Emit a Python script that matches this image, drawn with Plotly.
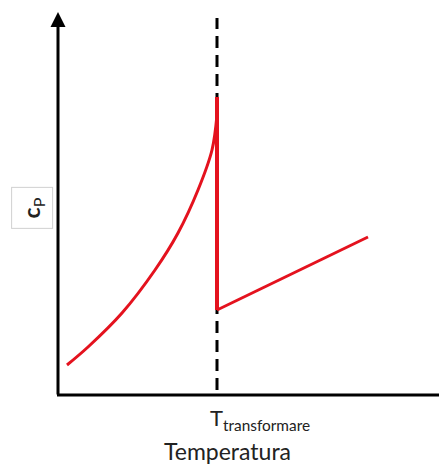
import plotly.graph_objects as go

# curve before the transformation (temperature, cp) - arbitrary units
curve_T = [9, 30, 64, 97, 120, 140, 154, 159]
curve_cp = [30, 48, 82, 125, 162, 205, 245, 280]

# jump at T transformare
jump_T = [159, 159]
jump_cp = [298, 85]

# linear part after transformation
after_T = [159, 310]
after_cp = [85, 158]

T_trans = 159
dash_cp = [5, 377]

red = "rgb(228,18,30)"

fig = go.Figure()
fig.add_trace(go.Scatter(x=[T_trans, T_trans], y=dash_cp, mode="lines",
                         line=dict(color="black", width=3, dash="12px,7px"), hoverinfo="skip"))
fig.add_trace(go.Scatter(x=curve_T, y=curve_cp, mode="lines",
                         line=dict(color=red, width=3, shape="spline"), hoverinfo="skip"))
fig.add_trace(go.Scatter(x=jump_T, y=jump_cp, mode="lines",
                         line=dict(color=red, width=4), hoverinfo="skip"))
fig.add_trace(go.Scatter(x=after_T, y=after_cp, mode="lines",
                         line=dict(color=red, width=3), hoverinfo="skip"))

# x axis line
fig.add_shape(type="line", x0=-1, x1=389, y0=0, y1=0, xref="x", yref="y",
              line=dict(color="black", width=3))
# y axis with arrow
fig.add_annotation(x=0, y=383, ax=0, ay=-1, xref="x", yref="y", axref="x", ayref="y",
                   showarrow=True, arrowhead=2, arrowsize=1, arrowwidth=3,
                   arrowcolor="black", text="")

# page has an 8px body margin, so positions are given in paper units
fig.add_annotation(x=0.39, y=-0.055, xref="paper", yref="paper", xanchor="left", yanchor="middle",
                   text="T<sub>transformare</sub>", showarrow=False,
                   font=dict(family="Lato", size=22, color="#222"))
fig.add_annotation(x=0.44, y=-0.136, xref="paper", yref="paper", xanchor="center", yanchor="middle",
                   text="Temperatura", showarrow=False,
                   font=dict(family="Lato", size=23, color="#222"))
fig.add_annotation(x=-0.0587, y=0.49, xref="paper", yref="paper", xanchor="center", yanchor="middle",
                   text="<b>c</b><sub>P</sub>", showarrow=False, textangle=-90,
                   width=38, height=38, bordercolor="#d0d0d0", borderwidth=1,
                   font=dict(family="Lato", size=23, color="#222"))

fig.update_xaxes(range=[-3, 389], visible=False, fixedrange=True)
fig.update_yaxes(range=[-3, 385], visible=False, fixedrange=True)
fig.update_layout(width=439, height=458, showlegend=False,
                  margin=dict(l=47, r=0, t=2, b=68),
                  plot_bgcolor="white", paper_bgcolor="white")

fig.write_html("out.html")
